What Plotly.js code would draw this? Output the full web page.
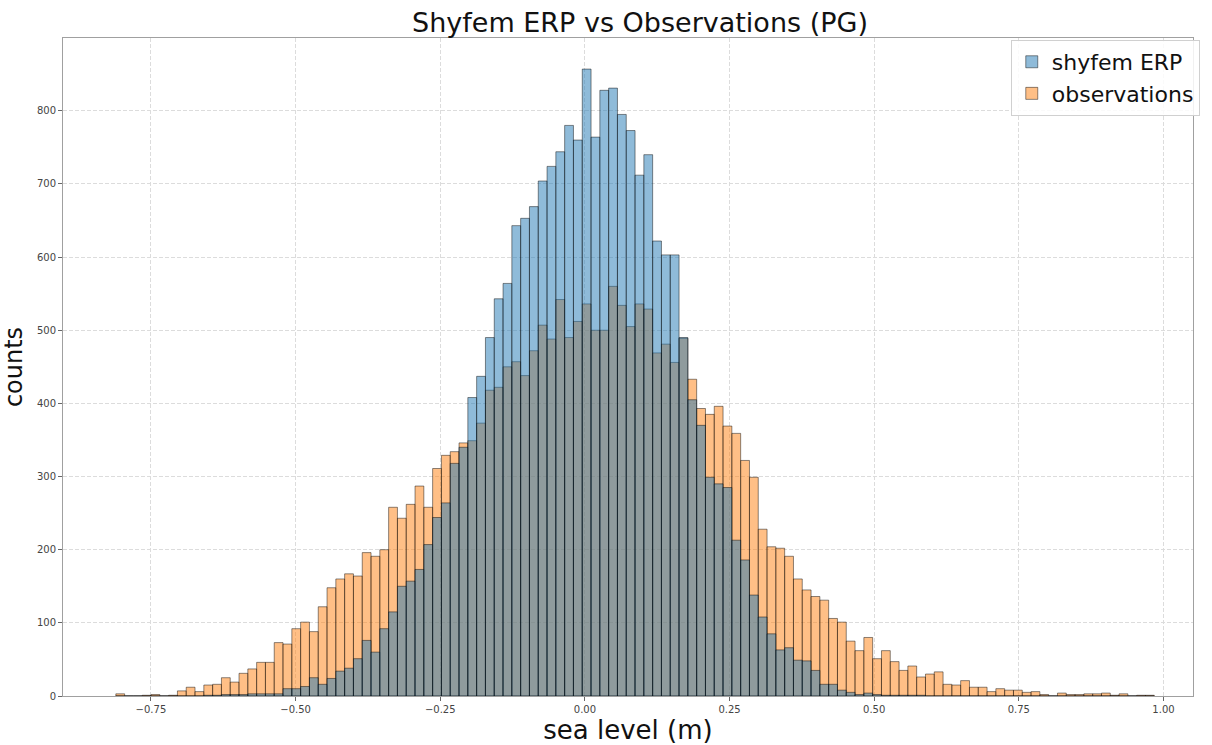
<!DOCTYPE html>
<html>
<head>
<meta charset="utf-8">
<script src="https://cdn.plot.ly/plotly-3.0.1.min.js"></script>
<style>html,body{margin:0;padding:0;background:#fff;}#chart{width:1212px;height:745px;}</style>
</head>
<body>
<div id="chart"></div>
<script>
// Histogram bins (sea level, m)
const binStart = -0.8107;
const binWidth = 0.01521;

// counts per bin, observations
const observationsCounts = [
  3, 0, 0, 1, 2, 0, 1, 7, 12, 6,
  15, 16, 25, 19, 31, 37, 46, 46, 73, 71,
  92, 101, 88, 122, 148, 160, 167, 164, 196, 191,
  200, 258, 243, 262, 287, 258, 311, 329, 334, 346,
  349, 373, 418, 422, 450, 457, 438, 472, 507, 488,
  542, 490, 512, 536, 500, 500, 560, 534, 505, 536,
  529, 469, 481, 456, 489, 433, 393, 385, 396, 369,
  359, 322, 299, 228, 204, 202, 191, 160, 145, 136,
  131, 106, 101, 75, 62, 80, 51, 62, 47, 35,
  41, 26, 30, 33, 16, 15, 21, 12, 12, 6,
  10, 8, 8, 5, 6, 2, 0, 4, 2, 2,
  3, 3, 4, 1, 3, 0, 1, 1
];

// counts per bin, shyfem ERP
const shyfemCounts = [
  0, 0, 0, 0, 0, 0, 0, 0, 0, 0,
  1, 1, 2, 2, 2, 3, 3, 3, 3, 10,
  10, 13, 25, 16, 24, 34, 38, 51, 76, 60,
  92, 115, 150, 157, 173, 207, 244, 264, 318, 340,
  408, 437, 490, 543, 564, 643, 653, 669, 704, 724,
  744, 780, 760, 857, 764, 828, 831, 795, 773, 712,
  740, 622, 603, 603, 490, 405, 370, 299, 290, 285,
  213, 186, 138, 108, 85, 63, 66, 49, 48, 35,
  16, 16, 8, 5, 2, 4, 2, 1, 1, 1,
  1, 1, 0, 0, 0, 0, 0, 0, 0, 0,
  0, 0, 0, 0, 0, 0, 0, 0, 0, 0,
  0, 0, 0, 0, 0, 0, 0, 0
];

const seriesNames = ['shyfem ERP', 'observations'];
const xTickVals = [-0.75, -0.5, -0.25, 0, 0.25, 0.5, 0.75, 1.0];
const yTickVals = [0, 100, 200, 300, 400, 500, 600, 700, 800];

const centers = observationsCounts.map((_, k) => binStart + (k + 0.5) * binWidth);

const font = 'DejaVu Sans, Verdana, sans-serif';

const traces = [
  {
    type: 'bar',
    name: seriesNames[1],
    x: centers,
    y: observationsCounts,
    width: binWidth,
    marker: {color: 'rgba(255,127,14,0.5)', line: {color: 'rgba(0,0,0,0.45)', width: 1}},
    legendrank: 2,
    hoverinfo: 'x+y+name'
  },
  {
    type: 'bar',
    name: seriesNames[0],
    x: centers,
    y: shyfemCounts,
    width: binWidth,
    marker: {color: 'rgba(31,119,180,0.5)', line: {color: 'rgba(0,0,0,0.45)', width: 1}},
    legendrank: 1,
    hoverinfo: 'x+y+name'
  }
];

const layout = {
  width: 1212,
  height: 745,
  margin: {l: 63, r: 12, t: 38, b: 49, pad: 0},
  paper_bgcolor: '#ffffff',
  plot_bgcolor: '#ffffff',
  barmode: 'overlay',
  bargap: 0,
  font: {family: font, color: '#000'},
  title: {
    text: 'Shyfem ERP vs Observations (PG)',
    font: {family: font, size: 27, color: '#111'},
    x: 640 / 1212, xanchor: 'center',
    xref: 'container',
    y: 1 - 23 / 745, yref: 'container', yanchor: 'middle'
  },
  xaxis: {
    range: [-0.902, 1.051],
    tickvals: xTickVals,
    tickformat: '.2f',
    ticks: 'outside', ticklen: 4, tickcolor: '#666',
    tickfont: {family: font, size: 10, color: '#444'},
    showgrid: true, gridcolor: '#dcdcdc', griddash: '4px,2px', gridwidth: 1,
    showline: true, linecolor: '#a0a0a0', linewidth: 1, mirror: true,
    zeroline: false,
    title: {text: 'sea level (m)', font: {family: font, size: 26, color: '#111'}, standoff: 5}
  },
  yaxis: {
    range: [0, 899.5],
    tickvals: yTickVals,
    ticks: 'outside', ticklen: 4, tickcolor: '#666',
    tickfont: {family: font, size: 10, color: '#444'},
    showgrid: true, gridcolor: '#dcdcdc', griddash: '4px,2px', gridwidth: 1,
    showline: true, linecolor: '#a0a0a0', linewidth: 1, mirror: true,
    zeroline: false,
    title: {text: 'counts', font: {family: font, size: 24, color: '#111'}, standoff: 8}
  },
  legend: {
    x: 1.006, xanchor: 'right',
    y: 0.997, yanchor: 'top',
    bgcolor: 'rgba(255,255,255,0.85)',
    bordercolor: '#d0d0d0', borderwidth: 1,
    font: {family: font, size: 22, color: '#111'},
    tracegroupgap: 0,
    itemwidth: 30
  },
  showlegend: true
};

Plotly.newPlot('chart', traces, layout, {displayModeBar: false, staticPlot: true});
</script>
</body>
</html>
